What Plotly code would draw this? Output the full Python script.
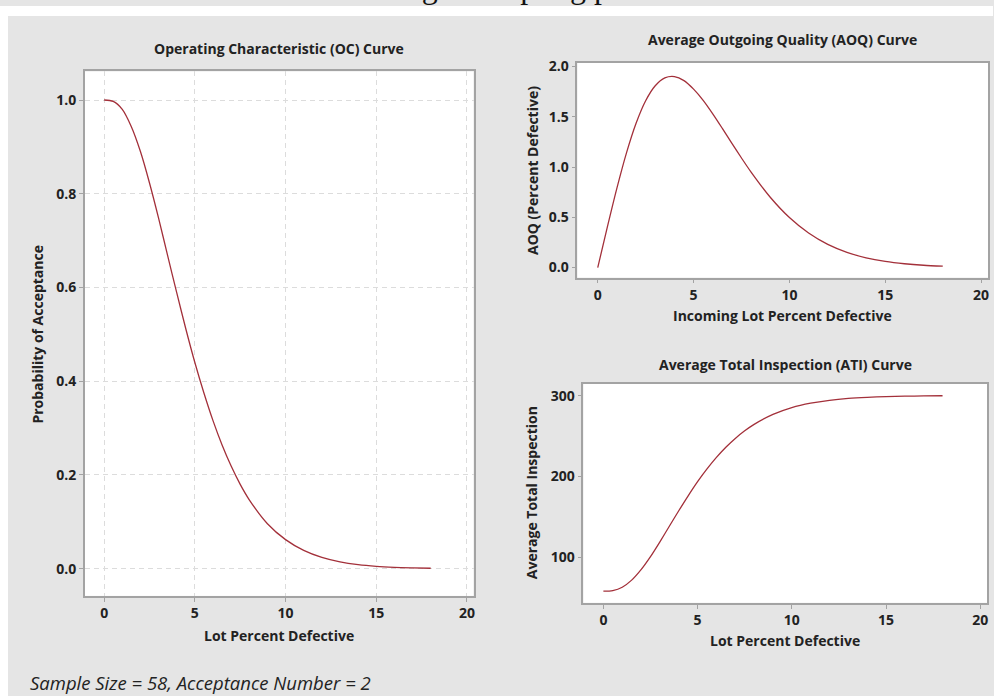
import plotly.graph_objects as go

# Values
lot_pct_defective = [0, 0.5, 1, 1.5, 2, 2.5, 3, 3.5, 4, 4.5, 5, 5.5, 6, 6.5, 7, 7.5, 8,
                     9, 10, 11, 12, 13, 14, 15, 16, 17, 18]
prob_acceptance = [1.000, 0.997, 0.980, 0.943, 0.890, 0.823, 0.748, 0.668, 0.589, 0.512,
                   0.440, 0.375, 0.316, 0.264, 0.219, 0.180, 0.147, 0.096, 0.062, 0.039,
                   0.024, 0.0145, 0.0086, 0.0050, 0.0029, 0.0017, 0.0009]
aoq_pct = [0.000, 0.402, 0.790, 1.141, 1.436, 1.660, 1.809, 1.887, 1.900, 1.860,
           1.775, 1.664, 1.530, 1.385, 1.236, 1.090, 0.950, 0.700, 0.498, 0.344,
           0.231, 0.152, 0.097, 0.061, 0.038, 0.023, 0.014]
ati = [58.0, 58.8, 62.9, 71.7, 84.7, 100.8, 119.1, 138.3, 157.5, 176.0,
       193.5, 209.3, 223.5, 236.1, 247.0, 256.4, 264.4, 276.7, 285.1, 290.6,
       294.2, 296.5, 297.9, 298.8, 299.3, 299.6, 299.8]

x_ticks = [0, 5, 10, 15, 20]
oc_yticks = [0.0, 0.2, 0.4, 0.6, 0.8, 1.0]
aoq_yticks = [0.0, 0.5, 1.0, 1.5, 2.0]
ati_yticks = [100, 200, 300]

W, H = 994, 696
LINE = "#A3303A"
FRAME = "#A3A3A3"
TXT = "#222222"
FONT = "Open Sans"
BG = "#E5E5E5"

def px(x):
    return x / W

def py(y):
    return 1 - y / H

fig = go.Figure()
fig.add_trace(go.Scatter(x=lot_pct_defective, y=prob_acceptance, mode="lines",
                         line=dict(color=LINE, width=1.3, shape="spline", smoothing=0.8),
                         xaxis="x", yaxis="y", showlegend=False))
fig.add_trace(go.Scatter(x=lot_pct_defective, y=aoq_pct, mode="lines",
                         line=dict(color=LINE, width=1.3, shape="spline", smoothing=0.8),
                         xaxis="x2", yaxis="y2", showlegend=False))
fig.add_trace(go.Scatter(x=lot_pct_defective, y=ati, mode="lines",
                         line=dict(color=LINE, width=1.3, shape="spline", smoothing=0.8),
                         xaxis="x3", yaxis="y3", showlegend=False))

tickfont = dict(family=FONT, size=14, color=TXT, weight="bold")
common = dict(showline=True, mirror=True, linecolor=FRAME, linewidth=1.5,
              ticks="outside", ticklen=4, tickcolor=FRAME, tickwidth=1,
              zeroline=False, tickfont=tickfont)
grid = dict(showgrid=True, gridcolor="#DCDCDC", gridwidth=1, griddash="5px,4px")
nogrid = dict(showgrid=False)

xr = [-1.06, 20.36]
fig.update_layout(
    width=W, height=H,
    margin=dict(l=0, r=0, t=0, b=0),
    paper_bgcolor=BG, plot_bgcolor="white",
    xaxis=dict(domain=[px(85), px(474)], range=xr, tickvals=x_ticks, anchor="y", **common, **grid),
    yaxis=dict(domain=[py(595), py(66)], range=[-0.058, 1.061], tickvals=oc_yticks,
               tickformat=".1f", anchor="x", **common, **grid),
    xaxis2=dict(domain=[px(578), px(989)], range=xr, tickvals=x_ticks, anchor="y2", **common, **nogrid),
    yaxis2=dict(domain=[py(274), py(57)], range=[-0.1, 2.04], tickvals=aoq_yticks,
                tickformat=".1f", anchor="x2", **common, **nogrid),
    xaxis3=dict(domain=[px(584), px(988)], range=xr, tickvals=x_ticks, anchor="y3", **common, **nogrid),
    yaxis3=dict(domain=[py(602), py(381)], range=[43.6, 314.7], tickvals=ati_yticks,
                anchor="x3", **common, **nogrid),
)

# white page strips around the grey figure panel
fig.add_shape(type="rect", xref="paper", yref="paper", x0=0, x1=1, y0=py(10), y1=1,
              fillcolor="white", line_width=0, layer="above")
fig.add_shape(type="rect", xref="paper", yref="paper", x0=0, x1=px(8), y0=0, y1=1,
              fillcolor="white", line_width=0, layer="above")

def ann(text, x, y, size=14, bold=True, angle=0, italic=False, xanchor="center", family=FONT):
    fig.add_annotation(text=text, x=px(x), y=py(y), xref="paper", yref="paper",
                       showarrow=False, textangle=angle, xanchor=xanchor, yanchor="middle",
                       font=dict(family=family, size=size, color=TXT,
                                 weight="bold" if bold else "normal",
                                 style="italic" if italic else "normal"))

# truncated document caption at the very top (only descenders visible)
fig.add_annotation(text="Single sampling plan", x=px(515), y=py(1), xref="paper", yref="paper",
                   showarrow=False, xanchor="center", yanchor="bottom",
                   font=dict(family="Liberation Serif", size=32, color="#111111"))

ann("Operating Characteristic (OC) Curve", 279, 43)
ann("Average Outgoing Quality (AOQ) Curve", 783, 34)
ann("Average Total Inspection (ATI) Curve", 786, 362)
ann("Lot Percent Defective", 279, 635)
ann("Incoming Lot Percent Defective", 783, 312)
ann("Lot Percent Defective", 786, 640)
ann("Probability of Acceptance", 37.5, 331, angle=-90)
ann("AOQ (Percent Defective)", 533, 166, angle=-90)
ann("Average Total Inspection", 532, 491, angle=-90)
ann("Sample Size = 58, Acceptance Number = 2", 28, 682, size=18.5, bold=False, italic=True,
    xanchor="left")

fig.write_html("out.html", config={"displayModeBar": False},
               post_script="document.body.style.margin='0';document.body.style.overflow='hidden';")
